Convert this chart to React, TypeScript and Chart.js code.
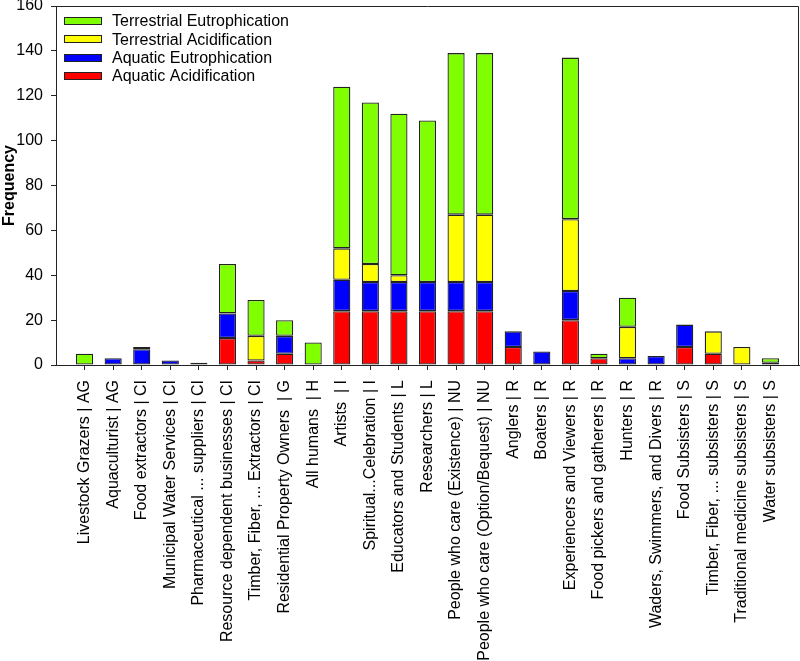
import React, { useEffect, useRef } from 'react';
import { Chart, registerables } from 'chart.js';

Chart.register(...registerables);

const categories: string[] = [
  'Livestock Grazers | AG',
  'Aquaculturist | AG',
  'Food extractors | CI',
  'Municipal Water Services | CI',
  'Pharmaceutical ... suppliers | CI',
  'Resource dependent businesses | CI',
  'Timber, Fiber, ... Extractors | CI',
  'Residential Property Owners  | G',
  'All humans  | H',
  'Artists  | I',
  'Spiritual...Celebration | I',
  'Educators and Students | L',
  'Researchers | L',
  'People who care (Existence) | NU',
  'People who care (Option/Bequest) | NU',
  'Anglers | R',
  'Boaters | R',
  'Experiencers and Viewers | R',
  'Food pickers and gatherers | R',
  'Hunters | R',
  'Waders, Swimmers, and Divers | R',
  'Food Subsisters | S',
  'Timber, Fiber, ... subsisters | S',
  'Traditional medicine subsisters | S',
  'Water subsisters | S',
];

const aquaticAcidification: number[] = [0, 0, 0, 0, 1, 12, 2, 5, 0, 24, 24, 24, 24, 24, 24, 8, 0, 20, 3, 0, 0, 8, 5, 0, 0];
const aquaticEutrophication: number[] = [0, 3, 7, 2, 0, 11, 0, 8, 0, 14, 13, 13, 13, 13, 13, 7, 6, 13, 0, 3, 4, 10, 0, 0, 1];
const terrestrialAcidification: number[] = [0, 0, 0, 0, 0, 0, 11, 0, 0, 14, 8, 3, 0, 30, 30, 0, 0, 32, 0, 14, 0, 0, 10, 8, 0];
const terrestrialEutrophication: number[] = [5, 0, 1, 0, 0, 22, 16, 7, 10, 72, 72, 72, 72, 72, 72, 0, 0, 72, 2, 13, 0, 0, 0, 0, 2];

const yTicks: number[] = [0, 20, 40, 60, 80, 100, 120, 140, 160];

const FONT = '"Liberation Sans", Arial, sans-serif';
const EDGE = '#222222';

const framePlugin = {
  id: 'frame',
  afterDraw(chart: any) {
    const { ctx, chartArea } = chart;
    ctx.save();
    ctx.strokeStyle = EDGE;
    ctx.lineWidth = 1;
    ctx.beginPath();
    ctx.moveTo(Math.round(chartArea.left) + 0.5, Math.round(chartArea.top) + 0.5);
    ctx.lineTo(Math.round(chartArea.right) - 0.5, Math.round(chartArea.top) + 0.5);
    ctx.lineTo(Math.round(chartArea.right) - 0.5, Math.round(chartArea.bottom) + 0.5);
    ctx.stroke();
    ctx.restore();
  },
};

const insideLegend = {
  id: 'insideLegend',
  afterDraw(chart: any) {
    const { ctx, chartArea } = chart;
    const ds = chart.data.datasets.slice().reverse();
    ctx.save();
    ctx.font = `16px ${FONT}`;
    ctx.textBaseline = 'middle';
    ctx.textAlign = 'left';
    const x0 = Math.round(chartArea.left) + 8;
    ds.forEach((d: any, i: number) => {
      const cy = chartArea.top + 15 + i * 18.3;
      const top = Math.round(cy - 4);
      ctx.fillStyle = d.backgroundColor;
      ctx.fillRect(x0, top, 38, 8);
      ctx.strokeStyle = EDGE;
      ctx.lineWidth = 1;
      ctx.strokeRect(x0 + 0.5, top + 0.5, 37, 7);
      ctx.fillStyle = '#000';
      ctx.fillText(d.label, x0 + 48, cy + 1);
    });
    ctx.restore();
  },
};

function toPoints(values: number[]) {
  return values.map((v, i) => ({ x: i, y: v ? v : null }));
}

export default function App() {
  const ref = useRef<HTMLCanvasElement | null>(null);

  useEffect(() => {
    if (!ref.current) return;
    Chart.defaults.font.family = FONT;
    Chart.defaults.font.size = 16;
    Chart.defaults.color = '#000';
    const common = {
      borderColor: EDGE,
      borderWidth: 1.3,
      borderSkipped: false,
      barPercentage: 0.6,
      categoryPercentage: 1,
    };
    const chart = new Chart(ref.current, {
      type: 'bar',
      data: {
        datasets: [
          { label: 'Aquatic Acidification', data: toPoints(aquaticAcidification), backgroundColor: '#ff0000', ...common },
          { label: 'Aquatic Eutrophication', data: toPoints(aquaticEutrophication), backgroundColor: '#0000ff', ...common },
          { label: 'Terrestrial Acidification', data: toPoints(terrestrialAcidification), backgroundColor: '#ffff00', ...common },
          { label: 'Terrestrial Eutrophication', data: toPoints(terrestrialEutrophication), backgroundColor: '#80ff00', ...common },
        ] as any,
      },
      options: {
        responsive: false,
        animation: false,
        devicePixelRatio: 1,
        layout: { padding: { top: 0, right: 1, left: 0, bottom: 0 } },
        plugins: { legend: { display: false }, tooltip: { enabled: false } },
        scales: {
          x: {
            type: 'linear',
            stacked: true,
            offset: false,
            min: -1,
            max: categories.length,
            afterBuildTicks: (scale: any) => {
              scale.ticks = categories.map((_, i) => ({ value: i }));
            },
            afterFit: (scale: any) => {
              scale.height = 296;
              scale.paddingLeft = 0;
              scale.paddingRight = 0;
            },
            ticks: {
              autoSkip: false,
              maxRotation: 90,
              minRotation: 90,
              padding: 10,
              font: { size: 16 },
              color: '#000',
              callback: (v: any) => categories[v as number] ?? '',
            },
            grid: { display: true, offset: false, drawOnChartArea: false, drawTicks: true, tickLength: 5, color: EDGE },
            border: { display: true, color: EDGE, width: 1 },
          },
          y: {
            type: 'linear',
            stacked: true,
            min: 0,
            max: 160,
            afterBuildTicks: (scale: any) => {
              scale.ticks = yTicks.map((v) => ({ value: v }));
            },
            afterFit: (scale: any) => {
              scale.width = 56;
              scale.paddingTop = 6;
              scale.paddingBottom = 0;
            },
            ticks: { padding: 8, font: { size: 16 }, color: '#000' },
            grid: { display: true, drawOnChartArea: false, drawTicks: true, tickLength: 5, color: EDGE },
            border: { display: true, color: EDGE, width: 1 },
            title: {
              display: true,
              text: 'Frequency',
              font: { size: 16, weight: 'bold' },
              color: '#000',
              padding: { top: 0, bottom: 0 },
            },
          },
        },
      } as any,
      plugins: [framePlugin, insideLegend],
    });
    return () => chart.destroy();
  }, []);

  return (
    <div style={{ position: 'absolute', left: 0, top: 0, width: 800, height: 661, background: '#fff' }}>
      <canvas ref={ref} width={800} height={661} />
    </div>
  );
}
